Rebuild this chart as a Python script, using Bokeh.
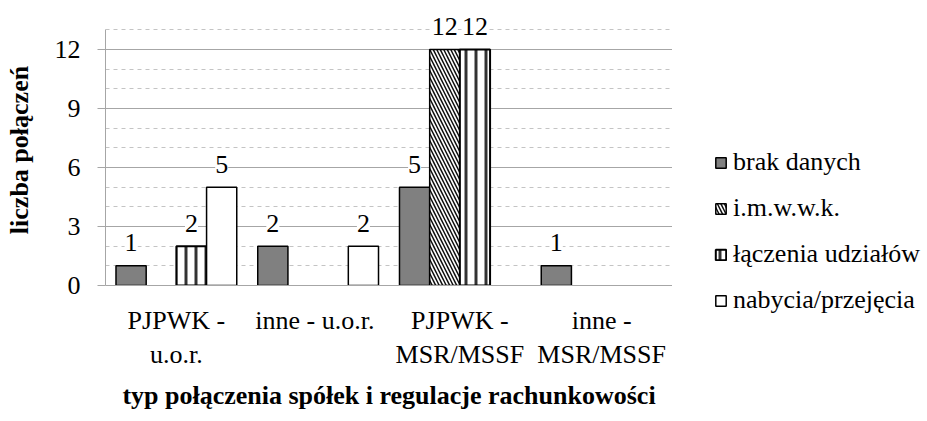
from bokeh.plotting import figure
from bokeh.models import (ColumnDataSource, FactorRange, Range1d, Legend, LegendItem,
                          LabelSet, FixedTicker)
from bokeh.transform import dodge
from bokeh.layouts import row
from bokeh.embed import file_html
from bokeh.resources import INLINE

# ---- data ----
categories = ["PJPWK -\nu.o.r.", "inne  - u.o.r.", "PJPWK -\nMSR/MSSF", "inne -\nMSR/MSSF"]
series_names = ["brak danych", "i.m.w.w.k.", "łączenia udziałów", "nabycia/przejęcia"]
brak_danych = [1, 2, 5, 1]
imwwk = [0, 0, 12, 0]
laczenia = [2, 0, 12, 0]
nabycia = [5, 2, 0, 0]
y_ticks = [0, 3, 6, 9, 12]
y_minor = [1, 2, 4, 5, 7, 8, 10, 11, 13]

SERIF = "Liberation Serif"
FS = "26px"

H = 421
PW = 672   # main figure width (frame right edge)
LW = 247   # legend figure width
TOP = 14

p = figure(x_range=FactorRange(*categories, range_padding=0), y_range=Range1d(0, 13.78),
           width=PW, height=H, output_backend="svg", toolbar_location=None,
           min_border_left=105, min_border_right=0, min_border_top=TOP,
           min_border_bottom=H - 285)
p.outline_line_color = None
p.background_fill_color = "white"
p.border_fill_color = "white"

# legend-only figure: its bar renderers are hidden, only the legend is shown
lp = figure(x_range=FactorRange(*categories, range_padding=0), y_range=Range1d(0, 13.78),
            width=LW, height=H, output_backend="svg", toolbar_location=None,
            x_axis_type=None, y_axis_type=None,
            min_border_left=0, min_border_right=0, min_border_top=0, min_border_bottom=0)
lp.outline_line_color = None
lp.grid.visible = False
lp.background_fill_color = "white"
lp.border_fill_color = "white"

bw = 0.213
offsets = [-1.5 * bw, -0.5 * bw, 0.5 * bw, 1.5 * bw]
values = [brak_danych, imwwk, laczenia, nabycia]
styles = [
    dict(fill_color="#808080", line_color="black", line_width=1.5),
    dict(fill_color="white", line_color="black", line_width=1.5,
         hatch_pattern="\\", hatch_color="#111111", hatch_scale=7, hatch_weight=1.5),
    dict(fill_color="white", line_color="black", line_width=2,
         hatch_pattern="|", hatch_color="#333333", hatch_scale=10, hatch_weight=3),
    dict(fill_color="white", line_color="black", line_width=1.5),
]

legend_items = []
for name, vals, off, st in zip(series_names, values, offsets, styles):
    cats = [c for c, v in zip(categories, vals) if v != 0]
    vs = [v for v in vals if v != 0]
    src = ColumnDataSource(dict(cat=cats, val=vs, txt=[str(v) for v in vs]))
    p.vbar(x=dodge("cat", off, range=p.x_range), top="val", width=bw, bottom=0,
           source=src, **st)
    lr = lp.vbar(x=dodge("cat", off, range=lp.x_range), top="val", width=bw, bottom=0,
                 source=src, **st)
    lr.visible = False
    legend_items.append(LegendItem(label=name, renderers=[lr]))
    lbl = LabelSet(x=dodge("cat", off, range=p.x_range), y="val", text="txt", source=src,
                   text_align="center", text_baseline="middle", y_offset=23,
                   text_font=SERIF, text_font_size=FS, text_color="black",
                   background_fill_color="white", background_fill_alpha=1.0)
    p.add_layout(lbl)

# axes & grid
p.yaxis.ticker = FixedTicker(ticks=y_ticks, minor_ticks=y_minor)
p.yaxis.bounds = (0, 13)
p.ygrid.ticker = p.yaxis.ticker
p.ygrid.grid_line_color = "#a6a6a6"
p.ygrid.grid_line_width = 1
p.ygrid.minor_grid_line_color = "#c4c4c4"
p.ygrid.minor_grid_line_dash = "4 4"
p.xgrid.grid_line_color = None

p.yaxis.axis_line_color = "#a6a6a6"
p.yaxis.major_tick_line_color = "#a6a6a6"
p.yaxis.major_tick_out = 8
p.yaxis.major_tick_in = 0
p.yaxis.minor_tick_line_color = None
p.yaxis.major_label_text_font = SERIF
p.yaxis.major_label_text_font_size = FS
p.yaxis.major_label_text_color = "black"
p.yaxis.major_label_standoff = 17
p.yaxis.axis_label = "liczba połączeń"
p.yaxis.axis_label_text_font = SERIF
p.yaxis.axis_label_text_font_style = "bold"
p.yaxis.axis_label_text_font_size = FS
p.yaxis.axis_label_text_color = "black"
p.yaxis.axis_label_standoff = 18

p.xaxis.axis_line_color = "#a6a6a6"
p.xaxis.major_tick_line_color = None
p.xaxis.minor_tick_line_color = None
p.xaxis.major_label_text_font = SERIF
p.xaxis.major_label_text_font_size = FS
p.xaxis.major_label_text_color = "black"
p.xaxis.major_label_standoff = 14
p.xaxis.axis_label = "typ połączenia spółek i regulacje rachunkowości"
p.xaxis.axis_label_text_font = SERIF
p.xaxis.axis_label_text_font_style = "bold"
p.xaxis.axis_label_text_font_size = FS
p.xaxis.axis_label_text_color = "black"
p.xaxis.axis_label_standoff = 9

legend = Legend(items=legend_items, location=(42, -30), orientation="vertical",
                label_text_font=SERIF, label_text_font_size=FS, label_text_color="black",
                glyph_width=13, glyph_height=13, label_standoff=6, label_height=30,
                spacing=16, padding=0, margin=0,
                inactive_fill_alpha=0.0,
                background_fill_alpha=0, border_line_color=None)
lp.add_layout(legend, "left")

open("out.html", "w").write(file_html(row(p, lp), INLINE))
